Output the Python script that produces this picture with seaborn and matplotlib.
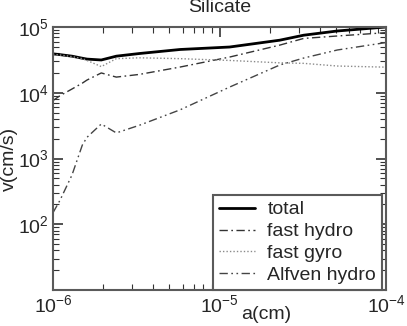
import numpy as np
import pandas as pd
import matplotlib
matplotlib.use("Agg")
import matplotlib.pyplot as plt
import matplotlib.ticker as mticker
import seaborn as sns

# ---- data ----
a_cm = [1.0e-6, 1.1e-6, 1.3e-6, 1.5e-6, 1.6e-6, 1.95e-6, 2.4e-6, 3.3e-6,
        5.8e-6, 1.15e-5, 2.3e-5, 3.2e-5, 5.1e-5, 1.0e-4]
v_total = [3.9e4, 3.8e4, 3.6e4, 3.35e4, 3.25e4, 3.15e4, 3.6e4, 3.95e4,
           4.55e4, 4.96e4, 6.3e4, 7.5e4, 8.7e4, 1.0e5]
v_fast_hydro = [7.6e3, 9.0e3, 1.14e4, 1.4e4, 1.56e4, 2.0e4, 1.73e4, 1.9e4,
                2.46e4, 3.49e4, 5.3e4, 6.7e4, 7.3e4, 8.2e4]
v_fast_gyro = [3.85e4, 3.75e4, 3.55e4, 3.3e4, 3.1e4, 2.5e4, 3.3e4, 3.4e4,
               3.3e4, 3.1e4, 2.85e4, 2.8e4, 2.55e4, 2.45e4]
v_alfven_hydro = [150, 230, 560, 1.6e3, 2.1e3, 3.35e3, 2.45e3, 3.2e3,
                  5.5e3, 1.22e4, 2.64e4, 3.37e4, 4.47e4, 5.8e4]
labels = ["total", "fast hydro", "fast gyro", "Alfven hydro"]
y_ticks = [1e2, 1e3, 1e4, 1e5]
title = "Silicate"
x_label = "a(cm)"
y_label = "v(cm/s)"

series = [v_total, v_fast_hydro, v_fast_gyro, v_alfven_hydro]
styles = [
    dict(color="black", lw=2.0, linestyle="-"),
    dict(color="#333333", lw=1.0, linestyle=(0, (6, 2.5, 1.2, 2.5))),
    dict(color="#8a8a8a", lw=1.0, linestyle=(0, (1, 1.5))),
    dict(color="#444444", lw=1.0, linestyle=(0, (6, 2.5, 1.2, 2.5, 1.2, 2.5))),
]

sns.set_style("ticks")
plt.rcParams["font.family"] = ["Liberation Sans", "DejaVu Sans"]
plt.rcParams["mathtext.default"] = "regular"
fs = 14

fig = plt.figure(figsize=(4.07, 3.26), dpi=100)
ax = fig.add_axes([53 / 407, 1 - 290 / 326, 333 / 407, 263 / 326])

for vals, lab, st in zip(series, labels, styles):
    df = pd.DataFrame({"a": a_cm, "v": vals})
    sns.lineplot(data=df, x="a", y="v", ax=ax, label=lab, sort=False, **st)

ax.set_xscale("log")
ax.set_yscale("log")
ax.set_xlim(1e-6, 1e-4)
ax.set_ylim(10, 1e5)
ax.set_yticks(y_ticks)
ax.yaxis.set_minor_locator(mticker.LogLocator(base=10, subs=np.arange(2, 10), numticks=20))
ax.xaxis.set_minor_locator(mticker.LogLocator(base=10, subs=np.arange(2, 10), numticks=20))
ax.yaxis.set_minor_formatter(mticker.NullFormatter())
ax.xaxis.set_minor_formatter(mticker.NullFormatter())

for sp in ax.spines.values():
    sp.set_color("#5a5a5a")
    sp.set_linewidth(1.5)
ax.tick_params(which="both", direction="in", top=True, right=True, color="#333333")
ax.tick_params(which="major", length=7, width=1.2, labelsize=fs, pad=3)
ax.tick_params(which="minor", length=4, width=0.8)

ax.set_title(title, fontsize=fs, pad=10.5)
ax.set_xlabel(x_label, fontsize=fs)
ax.set_ylabel(y_label, fontsize=fs)
ax.xaxis.set_label_coords(0.64, -0.06)
ax.yaxis.set_label_coords(-0.105, 0.5)

leg = ax.legend(loc="lower right", bbox_to_anchor=(0.988, 0.0), borderaxespad=0,
                fontsize=fs, frameon=True, fancybox=False, labelspacing=0.22,
                borderpad=0.3, handlelength=1.85, handletextpad=0.65)
leg.get_frame().set_edgecolor("#5a5a5a")
leg.get_frame().set_linewidth(1.5)
leg.get_frame().set_alpha(1)

fig.savefig("out.png", dpi=100)
